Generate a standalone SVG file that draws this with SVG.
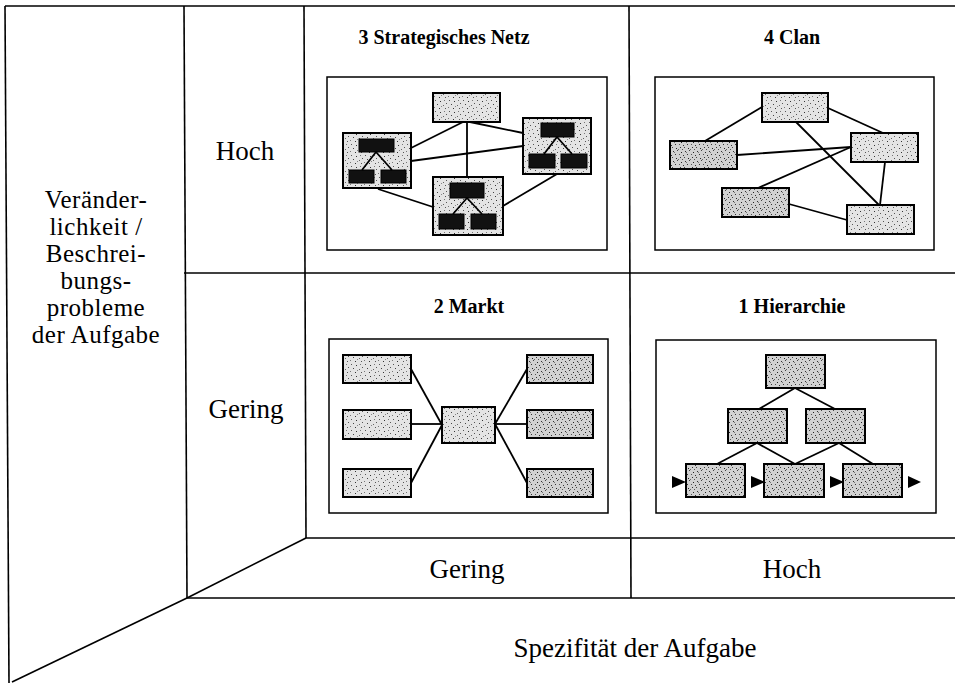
<svg xmlns="http://www.w3.org/2000/svg" width="955" height="683" viewBox="0 0 955 683">
<defs>
<pattern id="spk" width="14" height="11" patternUnits="userSpaceOnUse">
<rect width="14" height="11" fill="#e4e4e4"/>
<rect x="1" y="1" width="1" height="1" fill="#555"/>
<rect x="6" y="2" width="1" height="1" fill="#333"/>
<rect x="10" y="1" width="1" height="1" fill="#777"/>
<rect x="3" y="5" width="1" height="1" fill="#444"/>
<rect x="9" y="6" width="1" height="1" fill="#666"/>
<rect x="12" y="4" width="1" height="1" fill="#555"/>
<rect x="0" y="8" width="1" height="1" fill="#777"/>
<rect x="5" y="9" width="1" height="1" fill="#333"/>
<rect x="11" y="9" width="1" height="1" fill="#555"/>
<rect x="7" y="7" width="1" height="1" fill="#888"/>
</pattern>
<pattern id="spkd" width="12" height="10" patternUnits="userSpaceOnUse">
<rect width="12" height="10" fill="#d2d2d2"/>
<rect x="1" y="1" width="1" height="1" fill="#333"/>
<rect x="5" y="0" width="1" height="1" fill="#444"/>
<rect x="9" y="2" width="1" height="1" fill="#222"/>
<rect x="3" y="4" width="1" height="1" fill="#333"/>
<rect x="7" y="4" width="1" height="1" fill="#555"/>
<rect x="11" y="5" width="1" height="1" fill="#333"/>
<rect x="0" y="7" width="1" height="1" fill="#444"/>
<rect x="4" y="8" width="1" height="1" fill="#222"/>
<rect x="8" y="7" width="1" height="1" fill="#333"/>
<rect x="10" y="9" width="1" height="1" fill="#555"/>
<rect x="6" y="9" width="1" height="1" fill="#666"/>
<rect x="2" y="2" width="1" height="1" fill="#777"/>
</pattern>
</defs>
<style>
.frame{stroke:#000;stroke-width:1.6;fill:none}
.box{stroke:#000;stroke-width:1.5;fill:#fff}
.n{fill:url(#spk);stroke:#000;stroke-width:2}
.nd{fill:url(#spkd);stroke:#000;stroke-width:2}
.b{fill:#111;stroke:#000;stroke-width:1}
.c{stroke:#000;stroke-width:1.8;fill:none}
.tri{fill:#000}
.lbl{font-family:"Liberation Serif","Times New Roman",serif;font-size:27px;fill:#000;text-anchor:middle}
.lbl2{font-family:"Liberation Serif","Times New Roman",serif;font-size:25px;letter-spacing:0.5px;fill:#000;text-anchor:middle}
.ttl{font-family:"Liberation Serif","Times New Roman",serif;font-size:20px;font-weight:bold;fill:#000;text-anchor:middle}
</style>
<rect width="955" height="683" fill="#fff"/>

<g id="grid">
<path class="frame" d="M5,6 L955,6"/>
<path class="frame" d="M5,6 L9,683"/>
<path class="frame" d="M184,6 L187,598"/>
<path class="frame" d="M304,6 L306,538"/>
<path class="frame" d="M629,6 L631,598"/>
<path class="frame" d="M184,273 L955,273"/>
<path class="frame" d="M306,538 L955,538"/>
<path class="frame" d="M187,598 L955,598"/>
<path class="frame" d="M306,538 L187,598"/>
<path class="frame" d="M187,598 L12,682"/>
</g>

<g id="axis-labels">
<text class="lbl2" x="96" y="208">Veränder-</text>
<text class="lbl2" x="96" y="235">lichkeit /</text>
<text class="lbl2" x="96" y="262">Beschrei-</text>
<text class="lbl2" x="96" y="289">bungs-</text>
<text class="lbl2" x="96" y="316">probleme</text>
<text class="lbl2" x="96" y="343">der Aufgabe</text>
<text class="lbl" x="245" y="160">Hoch</text>
<text class="lbl" x="246" y="418">Gering</text>
<text class="lbl" x="467" y="578">Gering</text>
<text class="lbl" x="792" y="578">Hoch</text>
<text class="lbl" x="635" y="657">Spezifität der Aufgabe</text>
</g>

<g id="q3-strategisches-netz">
<text class="ttl" x="444" y="44">3 Strategisches Netz</text>
<rect class="box" x="327" y="77" width="280" height="173"/>
<g id="q3-connectors">
<path class="c" d="M467,122 L467,177"/>
<path class="c" d="M411,148 L463,122"/>
<path class="c" d="M470,122 L523,133"/>
<path class="c" d="M411,161 L523,146"/>
<path class="c" d="M378,189 L433,207"/>
<path class="c" d="M503,206 L557,174"/>
</g>
<g id="q3-top"><rect class="n" x="433" y="93" width="67" height="29"/></g>
<g id="q3-left">
<rect class="n" x="343" y="133" width="68" height="55"/>
<rect class="b" x="359" y="139" width="35" height="13"/>
<rect class="b" x="349" y="170" width="25" height="13"/>
<rect class="b" x="381" y="170" width="25" height="13"/>
<path class="c" d="M376,152 L362,170 M376,152 L392,170"/>
</g>
<g id="q3-right">
<rect class="n" x="523" y="118" width="68" height="56"/>
<rect class="b" x="541" y="123" width="33" height="14"/>
<rect class="b" x="529" y="154" width="26" height="14"/>
<rect class="b" x="561" y="154" width="26" height="14"/>
<path class="c" d="M557,137 L544,154 M557,137 L572,154"/>
</g>
<g id="q3-bottom">
<rect class="n" x="433" y="177" width="70" height="58"/>
<rect class="b" x="450" y="183" width="34" height="15"/>
<rect class="b" x="439" y="214" width="25" height="15"/>
<rect class="b" x="471" y="214" width="25" height="15"/>
<path class="c" d="M467,198 L453,214 M467,198 L482,214"/>
</g>
</g>

<g id="q4-clan">
<text class="ttl" x="792" y="44">4 Clan</text>
<rect class="box" x="655" y="77" width="279" height="173"/>
<g id="q4-connectors">
<path class="c" d="M762,107 L705,141"/>
<path class="c" d="M828,108 L883,133"/>
<path class="c" d="M796,122 L879,205"/>
<path class="c" d="M737,155 L851,147"/>
<path class="c" d="M885,162 L880,205"/>
<path class="c" d="M758,188 L851,147"/>
<path class="c" d="M789,204 L847,220"/>
</g>
<g id="q4-a"><rect class="n" x="762" y="93" width="66" height="29"/></g>
<g id="q4-b"><rect class="nd" x="670" y="141" width="67" height="28"/></g>
<g id="q4-c"><rect class="n" x="851" y="133" width="67" height="29"/></g>
<g id="q4-d"><rect class="nd" x="722" y="188" width="67" height="29"/></g>
<g id="q4-e"><rect class="n" x="847" y="205" width="67" height="29"/></g>
</g>

<g id="q2-markt">
<text class="ttl" x="469" y="313">2 Markt</text>
<rect class="box" x="329" y="339" width="279" height="174"/>
<g id="q2-connectors">
<path class="c" d="M411,369 L442,425"/>
<path class="c" d="M411,424 L442,424"/>
<path class="c" d="M411,483 L442,425"/>
<path class="c" d="M495,424 L527,369"/>
<path class="c" d="M495,424 L527,424"/>
<path class="c" d="M495,424 L527,483"/>
</g>
<g id="q2-l1"><rect class="n" x="343" y="355" width="68" height="28"/></g>
<g id="q2-l2"><rect class="n" x="343" y="410" width="68" height="29"/></g>
<g id="q2-l3"><rect class="n" x="343" y="469" width="68" height="28"/></g>
<g id="q2-center"><rect class="n" x="442" y="407" width="53" height="36"/></g>
<g id="q2-r1"><rect class="nd" x="527" y="355" width="66" height="28"/></g>
<g id="q2-r2"><rect class="nd" x="527" y="410" width="66" height="28"/></g>
<g id="q2-r3"><rect class="nd" x="527" y="469" width="66" height="28"/></g>
</g>

<g id="q1-hierarchie">
<text class="ttl" x="792" y="313">1 Hierarchie</text>
<rect class="box" x="656" y="340" width="280" height="173"/>
<g id="q1-connectors">
<path class="c" d="M795,388 L759,409"/>
<path class="c" d="M795,388 L835,409"/>
<path class="c" d="M757,443 L717,464"/>
<path class="c" d="M757,443 L795,464"/>
<path class="c" d="M839,443 L795,464"/>
<path class="c" d="M839,443 L873,464"/>
<path class="tri" d="M672,476 L686,482 L672,488 Z"/>
<path class="tri" d="M751,476 L765,482 L751,488 Z"/>
<path class="tri" d="M830,476 L844,482 L830,488 Z"/>
<path class="tri" d="M908,476 L921,482 L908,488 Z"/>
</g>
<g id="q1-top"><rect class="nd" x="766" y="355" width="59" height="33"/></g>
<g id="q1-ml"><rect class="nd" x="728" y="409" width="59" height="34"/></g>
<g id="q1-mr"><rect class="nd" x="806" y="409" width="59" height="34"/></g>
<g id="q1-b1"><rect class="nd" x="686" y="464" width="59" height="33"/></g>
<g id="q1-b2"><rect class="nd" x="764" y="464" width="60" height="33"/></g>
<g id="q1-b3"><rect class="nd" x="843" y="464" width="59" height="33"/></g>
</g>
</svg>
